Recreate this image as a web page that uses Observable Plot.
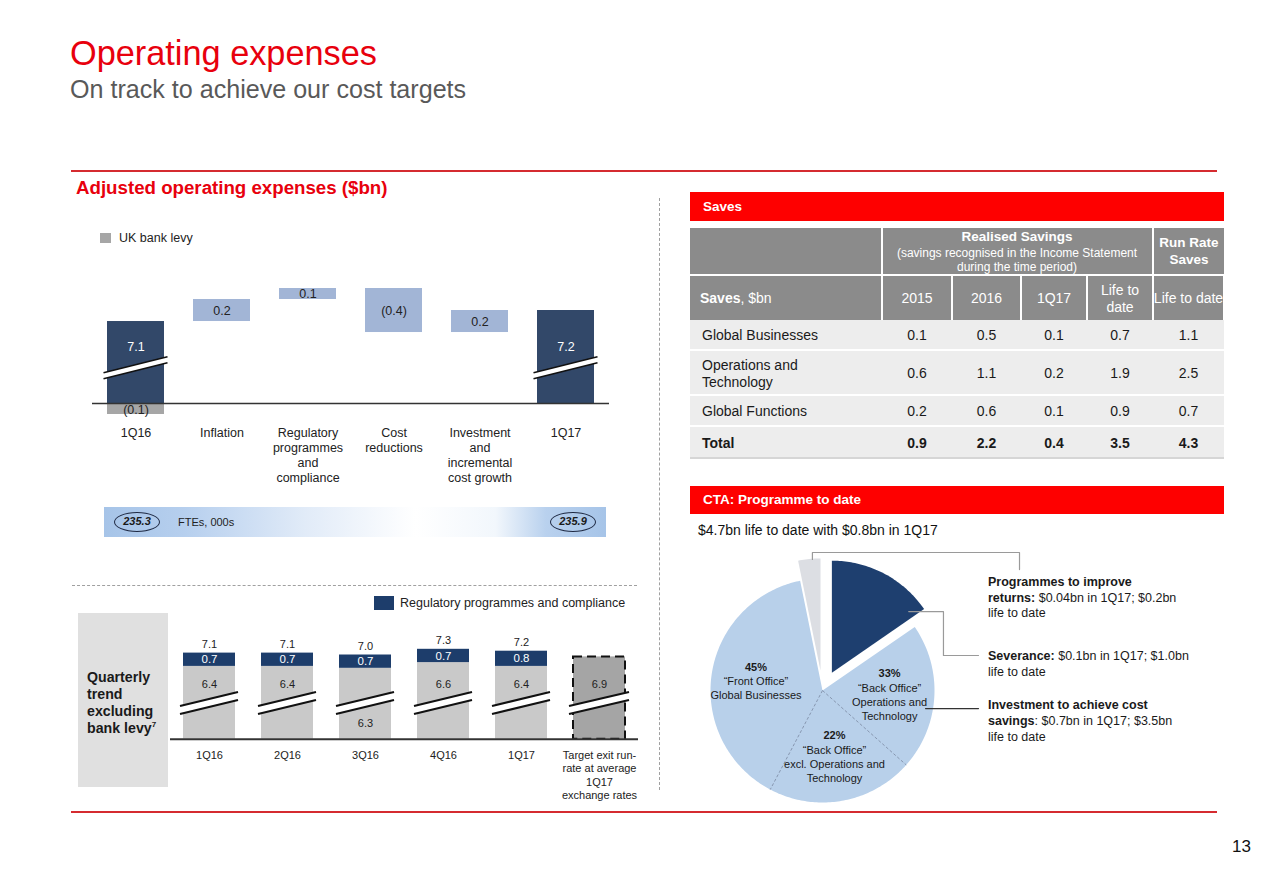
<!DOCTYPE html>
<html>
<head>
<meta charset="utf-8">
<script src="https://cdn.jsdelivr.net/npm/d3@7"></script>
<script src="https://cdn.jsdelivr.net/npm/@observablehq/plot@0.6"></script>
<style>
  body { margin: 0; background: #fff; font-family: "Liberation Sans", Arial, Helvetica, sans-serif; color: #1a1a1a; }
  #page { position: relative; width: 1280px; height: 895px; overflow: hidden; background: #fff; }
  #page sup { font-size: 8px; vertical-align: 6px; line-height: 0; }
</style>
</head>
<body>
<div id="page"></div>
<script>
// ---------------- DATA ----------------
// Waterfall: Adjusted operating expenses ($bn)
const wfCategories = ["1Q16", "Inflation", "Regulatory\nprogrammes\nand\ncompliance", "Cost\nreductions", "Investment\nand\nincremental\ncost growth", "1Q17"];
const wfStart = 7.1;
const wfDeltas = [0.2, 0.1, -0.4, 0.2];
const wfEnd = 7.2;
const ukBankLevy = -0.1;

// FTEs, 000s
const fteValues = [235.3, 235.9];

// Quarterly trend excluding bank levy
const qCategories = ["1Q16", "2Q16", "3Q16", "4Q16", "1Q17", "Target exit run-\nrate at average\n1Q17\nexchange rates"];
const qOther = [6.4, 6.4, 6.3, 6.6, 6.4, 6.9];
const qRegulatory = [0.7, 0.7, 0.7, 0.7, 0.8, null];
const qTotal = [7.1, 7.1, 7.0, 7.3, 7.2, null];

// Saves table ($bn)
const savesRows = ["Global Businesses", "Operations and<br>Technology", "Global Functions", "Total"];
const saves2015 = [0.1, 0.6, 0.2, 0.9];
const saves2016 = [0.5, 1.1, 0.6, 2.2];
const saves1Q17 = [0.1, 0.2, 0.1, 0.4];
const savesLifeToDate = [0.7, 1.9, 0.9, 3.5];
const runRateLifeToDate = [1.1, 2.5, 0.7, 4.3];

// CTA pie (shares as drawn in the picture, clockwise from 12 o'clock)
const ctaSlices = ["Severance", "Investment to achieve cost savings", "Programmes to improve returns"];
const ctaShares = [15.4, 81.4, 3.2];
const investLabels = [
  ["33%", "\u201cBack Office\u201d", "Operations and", "Technology"],
  ["22%", "\u201cBack Office\u201d", "excl. Operations and", "Technology"],
  ["45%", "\u201cFront Office\u201d", "Global Businesses"]
];
const investShares = [26, 26, 48];

// ---------------- STYLE ----------------
const FONT = '"Liberation Sans", Arial, Helvetica, sans-serif';
const RED = "#e8000d";
const BAND_RED = "#fe0000";
const LINE_RED = "#d52b30";
const WF_TOTAL = "#324869", WF_DELTA = "#a2b5d6", LEVY = "#a6a6a6";
const Q_OTHER = "#c9c9c9", Q_REG = "#1d3d6b", Q_TARGET = "#a5a5a5";
const ctaColors = ["#1e3f6f", "#b8d0ea", "#dcdee3"];
const ctaExploded = [true, false, true];

const page = document.getElementById("page");
function el(tag, css, html) { const e = document.createElement(tag); e.style.cssText = css; if (html != null) e.innerHTML = html; page.appendChild(e); return e; }
function rect(x, y, w, h, css) { return el("div", `position:absolute;left:${x}px;top:${y}px;width:${w}px;height:${h}px;${css}`); }
function label(html, x, yc, size, extra = "") { return el("div", `position:absolute;left:${x}px;top:${yc - 0.6 * size}px;font-size:${size}px;line-height:${1.2 * size}px;white-space:nowrap;${extra}`, html); }
function clabel(html, cx, yc, size, extra = "") { return label(html, cx, yc, size, "transform:translateX(-50%);text-align:center;" + extra); }
function placeSvg(svg, x, y) { svg.style.position = "absolute"; svg.style.left = x + "px"; svg.style.top = y + "px"; page.appendChild(svg); }
const fmt = v => v < 0 ? `(${Math.abs(v).toFixed(1)})` : v.toFixed(1);

function breakMarks(cats, value, {extend = 3, rise = 16, gap = 6, lineWidth = 1.5} = {}) {
  return (index, scales) => {
    const x = scales.x, y = scales.y;
    const bw = typeof x.bandwidth === "function" ? x.bandwidth() : scales.scales.x.bandwidth;
    const g = d3.create("svg:g");
    for (const c of cats) {
      const xl = x(c) - extend, xr = x(c) + bw + extend, yc = y(value);
      const yl = yc + rise / 2, yr = yc - rise / 2;
      g.append("path").attr("d", `M${xl},${yl - gap / 2}L${xr},${yr - gap / 2}L${xr},${yr + gap / 2}L${xl},${yl + gap / 2}Z`).attr("fill", "white");
      for (const s of [-1, 1]) {
        g.append("line").attr("x1", xl).attr("y1", yl + s * gap / 2).attr("x2", xr).attr("y2", yr + s * gap / 2)
          .attr("stroke", "#111").attr("stroke-width", lineWidth);
      }
    }
    return g.node();
  };
}

// ---------------- HEADER ----------------
label("Operating expenses", 70, 54, 34.3, `color:${RED};`);
label("On track to achieve our cost targets", 70, 89, 25.1, "color:#595959;");
rect(71, 170, 1146, 2, `background:${LINE_RED};`);
rect(71, 811, 1146, 2, `background:${LINE_RED};`);
label("Adjusted operating expenses ($bn)", 76, 188, 18.7, `color:${RED};font-weight:bold;`);
label("13", 1232, 847, 17, "color:#111;");

// separators
rect(659, 198, 0, 592, "border-left:1px dashed #a0a0a0;");
rect(72, 585, 565, 0, "border-top:1px dashed #a0a0a0;");

// ---------------- WATERFALL ----------------
const WF_BASE = 6.355;
let cum = wfStart;
const wf = [{cat: wfCategories[0], y1: WF_BASE, y2: wfStart, value: wfStart, kind: "total"}];
wfDeltas.forEach((d, i) => { wf.push({cat: wfCategories[i + 1], y1: cum, y2: cum + d, value: d, kind: "delta"}); cum += d; });
wf.push({cat: wfCategories[wfCategories.length - 1], y1: WF_BASE, y2: wfEnd, value: wfEnd, kind: "total"});
const levy = [{cat: wfCategories[0], y1: WF_BASE, y2: WF_BASE + ukBankLevy, value: ukBankLevy}];

const wfPlot = Plot.plot({
  width: 680, height: 300,
  marginLeft: 92, marginRight: 71, marginTop: 88, marginBottom: 97,
  x: {domain: wfCategories, paddingInner: 0.34, paddingOuter: 0.17},
  y: {domain: [WF_BASE, 7.4], axis: null},
  style: {background: "transparent", overflow: "visible", fontFamily: FONT, color: "#222"},
  marks: [
    Plot.barY(wf, {x: "cat", y1: "y1", y2: "y2", fill: d => d.kind === "total" ? WF_TOTAL : WF_DELTA}),
    Plot.barY(levy, {x: "cat", y1: "y1", y2: "y2", fill: LEVY}),
    breakMarks([wfCategories[0], wfCategories[5]], 6.676, {extend: 3.5, rise: 16, gap: 6, lineWidth: 1.6}),
    Plot.ruleY([WF_BASE], {stroke: "#333", strokeWidth: 1.5}),
    Plot.text(wf.filter(d => d.kind === "total"), {x: "cat", y: () => 6.87, text: d => fmt(d.value), fill: "white", fontSize: 12.5}),
    Plot.text(wf.filter(d => d.kind === "delta"), {x: "cat", y: d => (d.y1 + d.y2) / 2, text: d => fmt(d.value), fill: "#222", fontSize: 12.5}),
    Plot.text(levy, {x: "cat", y: d => (d.y1 + d.y2) / 2, text: d => fmt(d.value), fill: "#222", fontSize: 12.5, dy: 1}),
    Plot.axisX({tickSize: 0, tickPadding: 23, fontSize: 12.5, lineHeight: 1.2, label: null})
  ]
});
placeSvg(wfPlot, 0, 200);

rect(100, 233, 11, 10, `background:${LEVY};`);
label("UK bank levy", 119, 238, 12.5, "color:#222;");

// ---------------- FTE band ----------------
rect(104, 507, 502, 30, "background:linear-gradient(90deg,#a6c4e8 0%,#b6cfee 16%,#e1ebf8 40%,#ffffff 62%,#f2f7fc 78%,#b9d1ee 88%,#a6c4e8 100%);");
[[137, fteValues[0]], [573, fteValues[1]]].forEach(([cx, v]) => {
  rect(cx - 23, 512, 46, 20, "border:1px solid #1f2a44;border-radius:50%;box-sizing:border-box;");
  clabel(v.toFixed(1), cx, 522, 11, "font-weight:bold;font-style:italic;color:#1a1a1a;");
});
label("FTEs, 000s", 178, 523, 11, "color:#222;");

// ---------------- QUARTERLY ----------------
const Q_BASE = 2.57;
const q = qCategories.map((c, i) => ({cat: c, other: qOther[i], reg: qRegulatory[i], total: qTotal[i]}));
const qActual = q.filter(d => d.reg != null);
const qTarget = q.filter(d => d.reg == null);
const belowBreak = ["3Q16"];

const qPlot = Plot.plot({
  width: 680, height: 200,
  marginLeft: 170, marginRight: 42, marginTop: 45, marginBottom: 61.3,
  x: {domain: qCategories, paddingInner: 1 / 3, paddingOuter: 1 / 6},
  y: {domain: [Q_BASE, 7.5], axis: null},
  style: {background: "transparent", overflow: "visible", fontFamily: FONT, color: "#222"},
  marks: [
    Plot.barY(qActual, {x: "cat", y1: () => Q_BASE, y2: "other", fill: Q_OTHER}),
    Plot.barY(qActual, {x: "cat", y1: "other", y2: "total", fill: Q_REG}),
    Plot.barY(qTarget, {x: "cat", y1: () => Q_BASE, y2: "other", fill: Q_TARGET, stroke: "#111", strokeWidth: 2, strokeDasharray: "9,5"}),
    breakMarks(qCategories.slice(0, 5), 4.45, {extend: 3, rise: 14, gap: 8, lineWidth: 2}),
    breakMarks(qCategories.slice(5), 4.45, {extend: 4, rise: 14, gap: 8, lineWidth: 2}),
    Plot.ruleY([Q_BASE], {stroke: "#333", strokeWidth: 2}),
    Plot.text(qActual, {x: "cat", y: "total", dy: -9, text: d => fmt(d.total), fill: "#222", fontSize: 11}),
    Plot.text(qActual, {x: "cat", y: d => d.other + d.reg / 2, text: d => fmt(d.reg), fill: "white", fontSize: 11.5}),
    Plot.text(q, {x: "cat", y: d => belowBreak.includes(d.cat) ? 3.41 : 5.465, text: d => fmt(d.other), fill: "#222", fontSize: 11}),
    Plot.axisX({tickSize: 0, tickPadding: 10, fontSize: 11, lineHeight: 1.23, label: null})
  ]
});
placeSvg(qPlot, 0, 600);

rect(374, 596, 20, 14, `background:${Q_REG};`);
label("Regulatory programmes and compliance", 400, 603, 12.5, "color:#222;");
rect(78, 613, 90, 174, "background:#e0e0e0;");
["Quarterly", "trend", "excluding", "bank levy<sup>7</sup>"].forEach((t, i) => label(t, 87, 678 + 17 * i, 14.2, "font-weight:bold;color:#1a1a1a;"));

// ---------------- SAVES TABLE ----------------
rect(690, 192, 534, 29, `background:${BAND_RED};`);
label("Saves", 703, 207, 13.5, "color:#fff;font-weight:bold;");
const HDR = "background:#8b8b8b;";
const colEdges = [690, 882, 952, 1021, 1087, 1153, 1224];
// header row 1
rect(690, 228, 191, 46, HDR);
rect(883, 228, 269, 46, HDR);
rect(1154, 228, 70, 46, HDR);
clabel("Realised Savings", 1017, 237, 13.5, "color:#fff;font-weight:bold;");
clabel("(savings recognised in the Income Statement", 1017, 253, 12, "color:#fff;");
clabel("during the time period)", 1017, 267.5, 12, "color:#fff;");
clabel("Run Rate", 1189, 243.5, 13.5, "color:#fff;font-weight:bold;");
clabel("Saves", 1189, 260, 13.5, "color:#fff;font-weight:bold;");
// header row 2
const hdr2 = ["2015", "2016", "1Q17", "Life to<br>date", "Life to date"];
rect(690, 276, 191, 44, HDR);
label("<b>Saves</b>, $bn", 700, 298, 14, "color:#fff;");
for (let c = 1; c < colEdges.length - 1; c++) {
  const x0 = colEdges[c] + 1, x1 = colEdges[c + 1] - 1;
  rect(x0, 276, x1 - x0, 44, HDR);
  const cx = (colEdges[c] + colEdges[c + 1]) / 2;
  const t = hdr2[c - 1];
  if (t.includes("<br>")) {
    const [a, b] = t.split("<br>");
    clabel(a, cx, 290, 14, "color:#fff;");
    clabel(b, cx, 307, 14, "color:#fff;");
  } else clabel(t, cx, 298, 14, "color:#fff;");
}
// body rows
const rowTops = [320, 351, 396, 427, 459];
const cols = [saves2015, saves2016, saves1Q17, savesLifeToDate, runRateLifeToDate];
savesRows.forEach((name, r) => {
  const top = rowTops[r], h = rowTops[r + 1] - top;
  rect(690, top, 534, h - 2, "background:#ededed;");
  const yc = top + (h - 2) / 2 + 1;
  const bold = r === savesRows.length - 1 ? "font-weight:bold;" : "";
  if (name.includes("<br>")) {
    const [a, b] = name.split("<br>");
    label(a, 702, yc - 8.5, 14, "color:#1a1a1a;" + bold);
    label(b, 702, yc + 8.5, 14, "color:#1a1a1a;" + bold);
  } else label(name, 702, yc, 14, "color:#1a1a1a;" + bold);
  cols.forEach((arr, c) => clabel(arr[r].toFixed(1), (colEdges[c + 1] + colEdges[c + 2]) / 2, yc, 14, "color:#1a1a1a;" + bold));
});
rect(690, 457, 534, 2, "background:#d6d6d6;");

// ---------------- CTA ----------------
rect(690, 486, 534, 28, `background:${BAND_RED};`);
label("CTA: Programme to date", 703, 500, 13.5, "color:#fff;font-weight:bold;");
label("$4.7bn life to date with $0.8bn in 1Q17", 698, 530, 14, "color:#111;");

const EXPLODE = 0.18;
const pieTotal = d3.sum(ctaShares);
let accA = 0;
const pieSlices = ctaSlices.map((name, i) => {
  const a0 = accA / pieTotal * 2 * Math.PI; accA += ctaShares[i];
  const a1 = accA / pieTotal * 2 * Math.PI;
  const m = (a0 + a1) / 2;
  const off = ctaExploded[i] ? EXPLODE : 0;
  const ox = off * Math.sin(m), oy = off * Math.cos(m);
  const pts = [{x: ox, y: oy}];
  const n = Math.max(2, Math.ceil((a1 - a0) / (Math.PI / 180)));
  for (let k = 0; k <= n; k++) { const a = a0 + (a1 - a0) * k / n; pts.push({x: ox + Math.sin(a), y: oy + Math.cos(a)}); }
  pts.push({x: ox, y: oy});
  return {name, a0, a1, pts, color: ctaColors[i]};
});
const inv = pieSlices[1];
const invTotal = d3.sum(investShares);
let accI = 0;
const invSplits = investShares.map((s, i) => {
  const a0 = inv.a0 + (inv.a1 - inv.a0) * accI / invTotal; accI += s;
  const a1 = inv.a0 + (inv.a1 - inv.a0) * accI / invTotal;
  const m = (a0 + a1) / 2;
  return {lines: investLabels[i], a0, a1, lx: 0.6 * Math.sin(m), ly: 0.6 * Math.cos(m)};
});
const dividers = invSplits.slice(1).map(s => ({x1: 0, y1: 0, x2: Math.sin(s.a0), y2: Math.cos(s.a0)}));
const callouts = [
  {stroke: "#9a9a9a", pts: [[-0.09, 1.17], [-0.09, 1.232], [1.759, 1.232], [1.759, 1.08]]},
  {stroke: "#9a9a9a", pts: [[0.77, 0.705], [1.08, 0.705], [1.08, 0.3125], [1.393, 0.3125]]},
  {stroke: "#333333", pts: [[0.92, -0.161], [1.393, -0.161]]}
];
const LH = 14;
const piePlot = Plot.plot({
  width: 345, height: 275, margin: 0,
  x: {domain: [-1, 1], range: [20, 244], axis: null},
  y: {domain: [-1, 1], range: [262, 38], axis: null},
  style: {background: "transparent", overflow: "visible", fontFamily: FONT, color: "#222"},
  marks: [
    ...pieSlices.map(s => Plot.line(s.pts, {x: "x", y: "y", fill: s.color, stroke: "none"})),
    Plot.link(dividers, {x1: "x1", y1: "y1", x2: "x2", y2: "y2", stroke: "#8797b0", strokeWidth: 1, strokeDasharray: "3,2"}),
    ...callouts.map(c => Plot.line(c.pts.map(([x, y]) => ({x, y})), {x: "x", y: "y", stroke: c.stroke, strokeWidth: 1.2})),
    ...invSplits.flatMap(s => [
      Plot.text([s], {x: "lx", y: "ly", text: d => d.lines[0], fontWeight: "bold", fontSize: 11, fill: "#1a1a1a", dy: -(s.lines.length - 1) * LH / 2}),
      Plot.text([s], {x: "lx", y: "ly", text: d => d.lines.slice(1).join("\n"), fontSize: 11, fill: "#1a1a1a", lineHeight: LH / 11, dy: LH / 2})
    ])
  ]
});
placeSvg(piePlot, 690, 540);

const notes = [
  [582, "<b>Programmes to improve</b>"], [598, "<b>returns:</b> $0.04bn in 1Q17; $0.2bn"], [613, "life to date"],
  [656, "<b>Severance:</b> $0.1bn in 1Q17; $1.0bn"], [672, "life to date"],
  [705, "<b>Investment to achieve cost</b>"], [721, "<b>savings</b>: $0.7bn in 1Q17; $3.5bn"], [737, "life to date"]
];
notes.forEach(([y, t]) => label(t, 988, y, 12.5, "color:#1a1a1a;"));
</script>
</body>
</html>
